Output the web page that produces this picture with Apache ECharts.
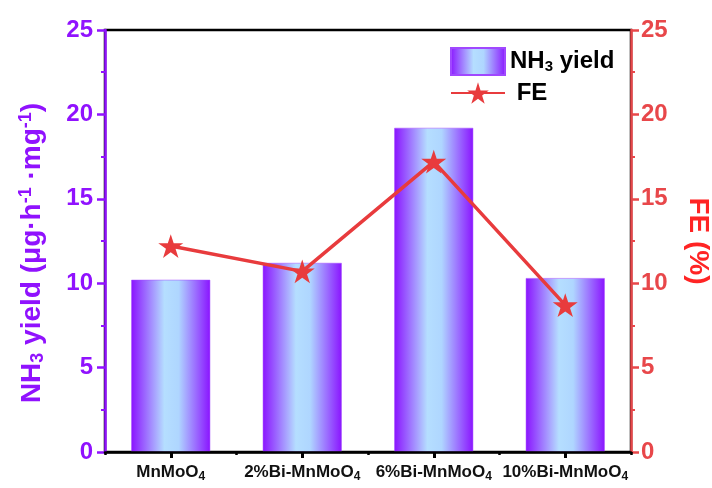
<!DOCTYPE html>
<html>
<head>
<meta charset="utf-8">
<script src="https://cdn.jsdelivr.net/npm/echarts@6/dist/echarts.min.js"></script>
<style>
  html, body { margin: 0; padding: 0; background: #fff; }
  #chart { width: 712px; height: 488px; }
</style>
</head>
<body>
<div id="chart"></div>
<script>
// Samples on the category axis (formula "MnMoO" + subscript 4)
const samples = ['MnMoO4', '2%Bi-MnMoO4', '6%Bi-MnMoO4', '10%Bi-MnMoO4'];
// NH3 yield, µg·h⁻¹·mg⁻¹
const nh3Yield = [10.2, 11.2, 19.2, 10.3];
// Faradaic efficiency, %
const faradaicEff = [12.2, 10.7, 17.2, 8.7];
// Shared scale of both value axes
const yMin = 0, yMax = 25, yStep = 5;

const FONT = '"Liberation Sans", Arial, sans-serif';
const PURPLE = '#9012FE';
const RED = '#E8474A';
const LINE_RED = '#E83B3D';

// five-pointed star marker
const STAR = 'path://M50,0 L61.2,34.5 L97.6,34.5 L68.2,55.9 L79.4,90.5 L50,69.1 L20.6,90.5 L31.8,55.9 L2.4,34.5 L38.8,34.5 Z';

// split "...O4" into body + subscript digit for rich text
function withSub(label) {
  const m = label.match(/^(.*?)(\d)$/);
  return m ? '{a|' + m[1] + '}{s|' + m[2] + '}' : '{a|' + label + '}';
}

const barGradient = new echarts.graphic.LinearGradient(0, 0, 1, 0, [
  { offset: 0, color: '#8A14FF' },
  { offset: 0.42, color: '#B5DEFF' },
  { offset: 0.6, color: '#AFD6FF' },
  { offset: 1, color: '#8A14FF' }
]);

const chart = echarts.init(document.getElementById('chart'), null, { renderer: 'canvas' });

chart.setOption({
  animation: false,
  textStyle: { fontFamily: FONT },
  grid: {
    left: 105, right: 81, top: 30, bottom: 36,
    containLabel: false,
    outerBoundsMode: 'none',
    show: true, borderColor: '#000', borderWidth: 2.5, backgroundColor: 'transparent'
  },
  legend: {
    orient: 'vertical',
    left: 445, top: 42,
    itemWidth: 54, itemHeight: 27, itemGap: 5,
    data: [{ name: 'NH3 yield', icon: 'rect' }, { name: 'FE' }],
    formatter: function (name) {
      return name === 'NH3 yield' ? '{a|NH}{s|3}{a| yield}' : '{a| FE}';
    },
    textStyle: {
      rich: {
        a: { fontFamily: FONT, fontSize: 24, fontWeight: 'bold', color: '#000' },
        s: { fontFamily: FONT, fontSize: 15, fontWeight: 'bold', color: '#000', padding: [11, 0, 0, 0] }
      }
    }
  },
  xAxis: [
    {
      type: 'category',
      data: samples,
      position: 'bottom',
      z: 10,
      axisLine: { show: true, onZero: false, lineStyle: { color: '#000', width: 2.5 } },
      axisTick: { show: true, inside: false, alignWithLabel: true, interval: 0, length: 6, lineStyle: { color: '#000', width: 3 } },
      axisLabel: {
        margin: 10,
        interval: 0,
        formatter: withSub,
        rich: {
          a: { fontFamily: FONT, fontSize: 17, fontWeight: 'bold', color: '#111' },
          s: { fontFamily: FONT, fontSize: 12, fontWeight: 'bold', color: '#111', padding: [9, 0, 0, 0] }
        }
      },
      splitLine: { show: false }
    },
    {
      // short ticks on the category boundaries
      type: 'category',
      data: samples,
      position: 'bottom',
      z: 10,
      axisLine: { show: false, onZero: false },
      axisTick: { show: true, inside: false, alignWithLabel: false, interval: 0, length: 3, lineStyle: { color: '#000', width: 2.5 } },
      axisLabel: { show: false },
      splitLine: { show: false }
    }
  ],
  yAxis: [
    {
      type: 'value',
      position: 'left',
      min: yMin, max: yMax, interval: yStep,
      name: '{a|NH}{s|3}{a| yield (μg·h}{p|-1}{a| ·mg}{p|-1}{a|)}',
      nameLocation: 'middle',
      nameGap: 58,
      nameRotate: 90,
      nameTextStyle: {
        padding: [0, 24, 0, 0],
        rich: {
          a: { fontFamily: FONT, fontSize: 28, fontWeight: 'bold', color: PURPLE },
          s: { fontFamily: FONT, fontSize: 18, fontWeight: 'bold', color: PURPLE, padding: [12, 0, 0, 0] },
          p: { fontFamily: FONT, fontSize: 18, fontWeight: 'bold', color: PURPLE, padding: [0, 0, 12, 0] }
        }
      },
      axisLine: { show: true, lineStyle: { color: PURPLE, width: 2.5 } },
      axisTick: { show: true, inside: false, length: 8, lineStyle: { color: PURPLE, width: 2.5 } },
      minorTick: { show: true, splitNumber: 2, length: 4, lineStyle: { color: PURPLE, width: 2 } },
      axisLabel: { margin: 12, fontFamily: FONT, fontSize: 24, fontWeight: 'bold', color: PURPLE },
      splitLine: { show: false },
      minorSplitLine: { show: false }
    },
    {
      type: 'value',
      position: 'right',
      min: yMin, max: yMax, interval: yStep,
      name: 'FE (%)',
      nameLocation: 'middle',
      nameGap: 53,
      nameRotate: -90,
      nameTextStyle: { fontFamily: FONT, fontSize: 28, fontWeight: 'bold', color: '#FF2424' },
      axisLine: { show: true, lineStyle: { color: RED, width: 2.5 } },
      axisTick: { show: true, inside: false, length: 8, lineStyle: { color: RED, width: 2.5 } },
      minorTick: { show: true, splitNumber: 2, length: 4, lineStyle: { color: RED, width: 2 } },
      axisLabel: { margin: 10, fontFamily: FONT, fontSize: 24, fontWeight: 'bold', color: RED },
      splitLine: { show: false },
      minorSplitLine: { show: false }
    }
  ],
  series: [
    {
      name: 'NH3 yield',
      type: 'bar',
      xAxisIndex: 0,
      yAxisIndex: 0,
      barWidth: '60%',
      data: nh3Yield,
      itemStyle: { color: barGradient, borderColor: '#A048FF', borderWidth: 0.5 }
    },
    {
      name: 'FE',
      type: 'line',
      xAxisIndex: 0,
      yAxisIndex: 1,
      data: faradaicEff,
      symbol: STAR,
      symbolSize: 25,
      symbolKeepAspect: true,
      z: 5,
      lineStyle: { color: LINE_RED, width: 3.5 },
      itemStyle: { color: LINE_RED }
    }
  ]
});
</script>
</body>
</html>
